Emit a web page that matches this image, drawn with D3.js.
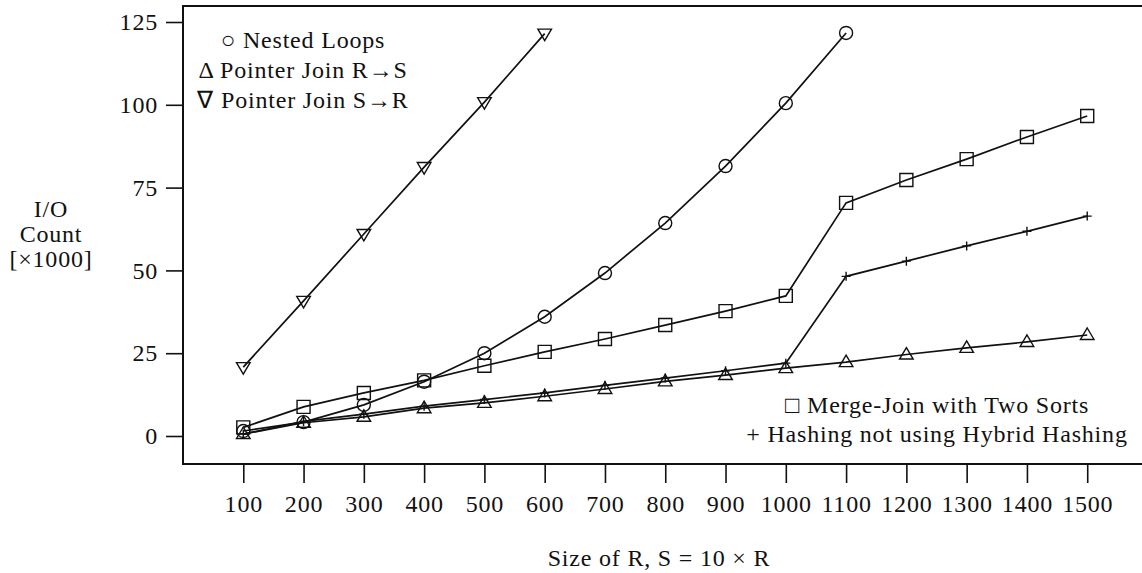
<!DOCTYPE html>
<html lang="en">
<head>
    <meta charset="UTF-8">
    <title>I/O Count vs Size of R</title>
    <script src="https://d3js.org/d3.v7.min.js"></script>
    <style>
        body { margin: 0; background: #fff; }
        svg { display: block; }
        text { font-family: "Liberation Serif", "Times New Roman", serif; font-size: 24px; letter-spacing: 0.8px; fill: #111; }
    </style>
</head>
<body>
    <script>
        // data (I/O count in thousands)
        const sizes = [100, 200, 300, 400, 500, 600, 700, 800, 900, 1000, 1100, 1200, 1300, 1400, 1500];
        const nestedLoops = [1.5, 4.2, 9.4, 16.4, 25, 36, 49.2, 64.3, 81.5, 100.5, 121.7];
        const pointerRS = [0.6, 4, 5.8, 8.4, 10, 12, 14.2, 16.5, 18.4, 20.5, 22.3, 24.6, 26.6, 28.4, 30.5];
        const pointerSR = [20.8, 40.8, 61, 81.2, 100.8, 121.5];
        const mergeJoin = [2.6, 8.8, 13, 16.8, 21.2, 25.4, 29.3, 33.5, 37.7, 42.3, 70.4, 77.3, 83.6, 90.3, 96.6];
        const hashing = [0.6, 4.4, 6.6, 9, 11, 13, 15.3, 17.5, 19.7, 22, 48.2, 52.8, 57.4, 61.8, 66.4];
        const yTicks = [0, 25, 50, 75, 100, 125];

        const w = 1142, h = 573;
        const frameLeft = 183, frameTop = 6, frameBottom = 464;

        const svg = d3.select("body").append("svg")
            .attr("width", w)
            .attr("height", h);

        const x = d3.scaleLinear().domain([0, 1600]).range([frameLeft, 1147.5]);
        const y = d3.scaleLinear().domain([0, 125]).range([436, 22]);

        // frame (runs off the right edge)
        svg.append("path")
            .attr("d", `M${w},${frameTop}H${frameLeft}V${frameBottom}H${w}`)
            .attr("fill", "none")
            .attr("stroke", "#111")
            .attr("stroke-width", 2);

        // axes
        const xAxis = d3.axisBottom(x).tickValues(sizes).tickFormat(d3.format("d")).tickSize(19).tickPadding(12);
        const gx = svg.append("g")
            .attr("transform", `translate(0,${frameBottom})`)
            .call(xAxis);
        const yAxis = d3.axisLeft(y).tickValues(yTicks).tickFormat(d3.format("d")).tickSize(17).tickPadding(8);
        const gy = svg.append("g")
            .attr("transform", `translate(${frameLeft},0)`)
            .call(yAxis);
        [gx, gy].forEach(g => {
            g.select(".domain").remove();
            g.selectAll(".tick line").attr("stroke", "#111").attr("stroke-width", 1.6);
            g.selectAll(".tick text").attr("font-size", null).attr("font-family", null).attr("fill", "#111");
        });
        gx.selectAll(".tick text").attr("dy", "0.71em");

        // series
        const series = [
            { xs: sizes.slice(0, nestedLoops.length), ys: nestedLoops, mark: "circle" },
            { xs: sizes, ys: pointerRS, mark: "up" },
            { xs: sizes.slice(0, pointerSR.length), ys: pointerSR, mark: "down" },
            { xs: sizes, ys: mergeJoin, mark: "square" },
            { xs: sizes, ys: hashing, mark: "plus" }
        ];

        const line = d3.line().x(d => x(d[0])).y(d => y(d[1]));
        const shapes = {
            circle: "M6.5,0A6.5,6.5 0 1,1 -6.5,0A6.5,6.5 0 1,1 6.5,0Z",
            up: "M0,-7L6.8,4.5L-6.8,4.5Z",
            down: "M0,7L6.8,-4.5L-6.8,-4.5Z",
            square: "M-6.5,-6.5H6.5V6.5H-6.5Z",
            plus: "M-4.5,0H4.5M0,-4.5V4.5"
        };

        series.forEach(s => {
            const pts = s.xs.map((v, i) => [v, s.ys[i]]);
            svg.append("path")
                .datum(pts)
                .attr("d", line)
                .attr("fill", "none")
                .attr("stroke", "#111")
                .attr("stroke-width", 1.7);
            svg.selectAll(null)
                .data(pts)
                .enter()
                .append("path")
                .attr("d", shapes[s.mark])
                .attr("transform", d => `translate(${x(d[0])},${y(d[1])})`)
                .attr("fill", "none")
                .attr("stroke", "#111")
                .attr("stroke-width", 1.4);
        });

        // legends
        const legendTop = ["○ Nested Loops", "Δ Pointer Join R→S", "∇ Pointer Join S→R"];
        svg.selectAll(null)
            .data(legendTop)
            .enter()
            .append("text")
            .attr("x", 303)
            .attr("y", (d, i) => 48 + i * 30)
            .attr("text-anchor", "middle")
            .text(d => d);

        const legendBottom = ["□ Merge-Join with Two Sorts", "+ Hashing not using Hybrid Hashing"];
        svg.selectAll(null)
            .data(legendBottom)
            .enter()
            .append("text")
            .attr("x", 937)
            .attr("y", (d, i) => 413 + i * 29)
            .attr("text-anchor", "middle")
            .text(d => d);

        // axis titles
        svg.append("text")
            .attr("x", 659)
            .attr("y", 566)
            .attr("text-anchor", "middle")
            .text("Size of R, S = 10 × R");

        svg.selectAll(null)
            .data(["I/O", "Count", "[×1000]"])
            .enter()
            .append("text")
            .attr("x", 51)
            .attr("y", (d, i) => 217 + i * 25)
            .attr("text-anchor", "middle")
            .text(d => d);
    </script>
</body>
</html>
